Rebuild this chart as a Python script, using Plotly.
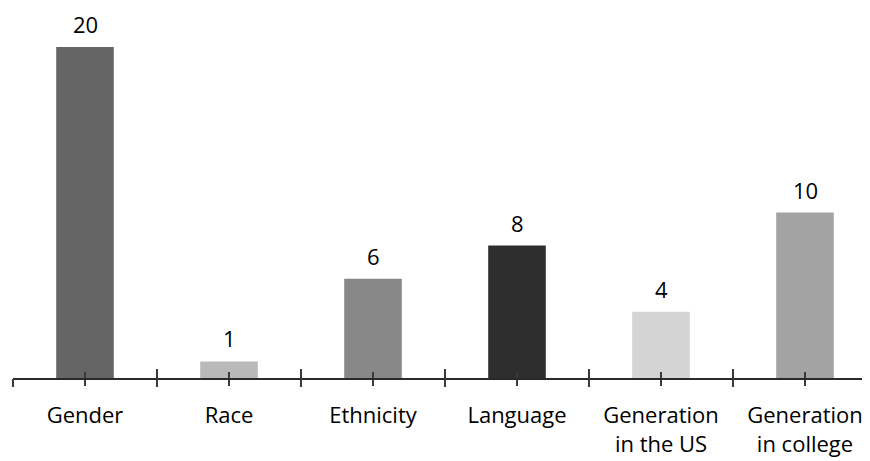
import plotly.graph_objects as go

categories = ["Gender", "Race", "Ethnicity", "Language", "Generation<br>in the US", "Generation<br>in college"]
values = [20, 1, 6, 8, 4, 10]
bar_colors = ["#656565", "#b9b9b9", "#888888", "#2e2e2e", "#d4d4d4", "#a3a3a3"]

FONT = "Open Sans, Carlito, Calibri, sans-serif"
AX = "#3a3a3a"

fig = go.Figure()
fig.add_trace(go.Bar(
    x=categories, y=values, width=0.4,
    marker=dict(color=bar_colors, line=dict(width=0)),
    hoverinfo="skip",
))

for c, v in zip(categories, values):
    fig.add_annotation(x=c, y=v, text=str(v), showarrow=False,
                       yanchor="bottom", yshift=7, borderpad=0,
                       font=dict(family=FONT, size=22, color="#000000"))

n = len(categories)
xr = [-0.5, n - 0.5]
bounds = [i - 0.5 for i in range(n + 1)]
centers = list(range(n))

fig.update_layout(
    width=870, height=461,
    margin=dict(l=5, r=1, t=0, b=91),
    paper_bgcolor="white", plot_bgcolor="white",
    showlegend=False,
    font=dict(family=FONT, size=22, color="#000000"),
    xaxis=dict(
        type="category", range=xr, showline=True, linecolor="#2a2a2a", linewidth=1.8,
        ticks="outside", ticklen=6, tickwidth=1.5, tickcolor=AX,
        showgrid=False, zeroline=False, tickfont=dict(family=FONT, size=22),
        ticklabelstandoff=11,
    ),
    xaxis2=dict(
        overlaying="x", anchor="y", type="linear", range=xr,
        tickmode="array", tickvals=bounds, ticks="outside", ticklen=8,
        tickwidth=1.5, tickcolor=AX, showticklabels=False, showgrid=False,
        zeroline=False, showline=False,
        minor=dict(tickmode="array", tickvals=centers, ticks="inside",
                   ticklen=6, tickwidth=1.5, tickcolor=AX, showgrid=False),
    ),
    xaxis3=dict(
        overlaying="x", anchor="y", type="linear", range=xr,
        tickmode="array", tickvals=bounds, ticks="inside", ticklen=9,
        tickwidth=1.5, tickcolor=AX, showticklabels=False, showgrid=False,
        zeroline=False, showline=False,
    ),
    yaxis=dict(range=[0, 22.36], visible=False, showgrid=False, zeroline=False),
)
# invisible helper traces so the overlay tick axes render
fig.add_trace(go.Scatter(x=[0], y=[0], xaxis="x2", mode="markers",
                         marker=dict(opacity=0), hoverinfo="skip"))
fig.add_trace(go.Scatter(x=[0], y=[0], xaxis="x3", mode="markers",
                         marker=dict(opacity=0), hoverinfo="skip"))

fig.write_html("out.html")
